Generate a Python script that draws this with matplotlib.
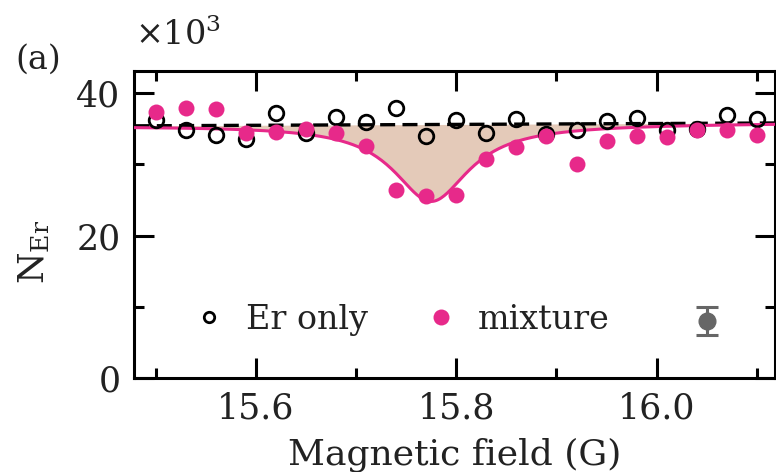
import matplotlib.pyplot as plt
import numpy as np
from matplotlib.lines import Line2D
from matplotlib.ticker import MultipleLocator


#~~~~~~~~~~~~~~~~~~~~~~~~~~~~~~~~DATA~~~~~~~~~~~~~~~~~~~~~~~~~~~~~~~~
# magnetic field scan (G)
field = [15.50, 15.53, 15.56, 15.59, 15.62, 15.65, 15.68, 15.71, 15.74, 15.77, 15.80,
         15.83, 15.86, 15.89, 15.92, 15.95, 15.98, 16.01, 16.04, 16.07, 16.10]

# atom numbers in units of 10^3
er_only = [36.2, 34.8, 34.1, 33.5, 37.2, 34.4, 36.7, 35.9, 37.9, 34.0, 36.2,
           34.4, 36.4, 34.2, 34.8, 36.1, 36.5, 34.8, 35.0, 36.9, 36.3]
mixture = [37.4, 37.9, 37.7, 34.4, 34.6, 34.9, 34.4, 32.6, 26.4, 25.6, 25.7,
           30.8, 32.4, 34.0, 30.0, 33.3, 34.0, 33.8, 34.8, 34.8, 34.1]

# linear background (Er only) and lorentzian loss feature (mixture)
background_field = [15.479, 16.118]
background_N = [35.4, 35.8]
dip_center = 15.775
dip_depth = 10.8
dip_hwhm = 0.046

# typical error bar
err_field = 16.05
err_N = 8.0
err_size = 2.0

pink = '#e7298a'
shade = '#e4cab9'
grey = '#666666'


#~~~~~~~~~~~~~~~~~~~~~~~~~~~~~~~STYLE~~~~~~~~~~~~~~~~~~~~~~~~~~~~~~~~
plt.rcParams['font.family'] = ['DejaVu Serif']
plt.rcParams['mathtext.fontset'] = 'dejavuserif'
plt.rcParams['font.size'] = 24
plt.rcParams['axes.linewidth'] = 2.2
plt.rcParams['text.color'] = '#222222'
plt.rcParams['xtick.labelcolor'] = '#222222'
plt.rcParams['ytick.labelcolor'] = '#222222'
plt.rcParams['axes.labelcolor'] = '#222222'


#~~~~~~~~~~~~~~~~~~~~~~~~~~~~~~~PLOT~~~~~~~~~~~~~~~~~~~~~~~~~~~~~~~~~
fig = plt.figure(figsize=(7.76, 4.72), dpi=100)
ax = fig.add_axes([0.1733, 0.1992, 0.8254, 0.6504])

B = np.linspace(background_field[0], background_field[1], 400)
background = np.interp(B, background_field, background_N)
fit = background - dip_depth / (1 + ((B - dip_center) / dip_hwhm) ** 2)

ax.fill_between(B, fit, background, color=shade, lw=0, zorder=1)
ax.plot(B, background, color='black', lw=2.4, dashes=(4.5, 2.2), zorder=2)
ax.plot(B, fit, color=pink, lw=2.2, zorder=3)

ax.plot(field, er_only, 'o', ms=10.5, mfc='none', mec='black', mew=2.0, zorder=4)
ax.plot(field, mixture, 'o', ms=11.5, color=pink, mew=0, zorder=5)

ax.errorbar([err_field], [err_N], yerr=[err_size], fmt='o', ms=12, color=grey,
            elinewidth=2.2, capsize=8, capthick=2.2, zorder=5)

# legend handles
handles = [
    Line2D([], [], ls='none', marker='o', ms=7.5, mfc='none', mec='black', mew=2.0),
    Line2D([], [], ls='none', marker='o', ms=11.5, color=pink, mew=0),
]
ax.legend(handles, ['Er only', 'mixture'], ncol=2, frameon=False,
          loc='center left', bbox_to_anchor=(0.0906, 0.189),
          handlelength=1.0, handletextpad=0.6, columnspacing=1.7,
          borderpad=0, borderaxespad=0, fontsize=24)

ax.set_xlim(background_field[0], background_field[1])
ax.set_ylim(0, 43.1)

ax.xaxis.set_major_locator(MultipleLocator(0.2))
ax.xaxis.set_minor_locator(MultipleLocator(0.1))
ax.yaxis.set_major_locator(MultipleLocator(20))
ax.yaxis.set_minor_locator(MultipleLocator(10))
ax.set_xticks([15.6, 15.8, 16.0])
ax.set_xticklabels(['15.6', '15.8', '16.0'])

ax.tick_params(which='both', direction='in', top=True, right=True, width=2.2,
               labelsize=25)
ax.tick_params(which='major', length=14.4, pad=10)
ax.tick_params(which='minor', length=7.2)

ax.set_xlabel('Magnetic field (G)', fontsize=26, labelpad=8)
ax.set_ylabel(r'N$_{\mathrm{Er}}$', fontsize=26)
ax.yaxis.set_label_coords(-0.128, 0.41)

fig.text(135 / 776, 1 - 35 / 472, r'$\times$10$^3$', ha='left', va='center', fontsize=24)
fig.text(15 / 776, 1 - 60 / 472, '(a)', ha='left', va='center', fontsize=24)

fig.savefig('out.png', dpi=100)
